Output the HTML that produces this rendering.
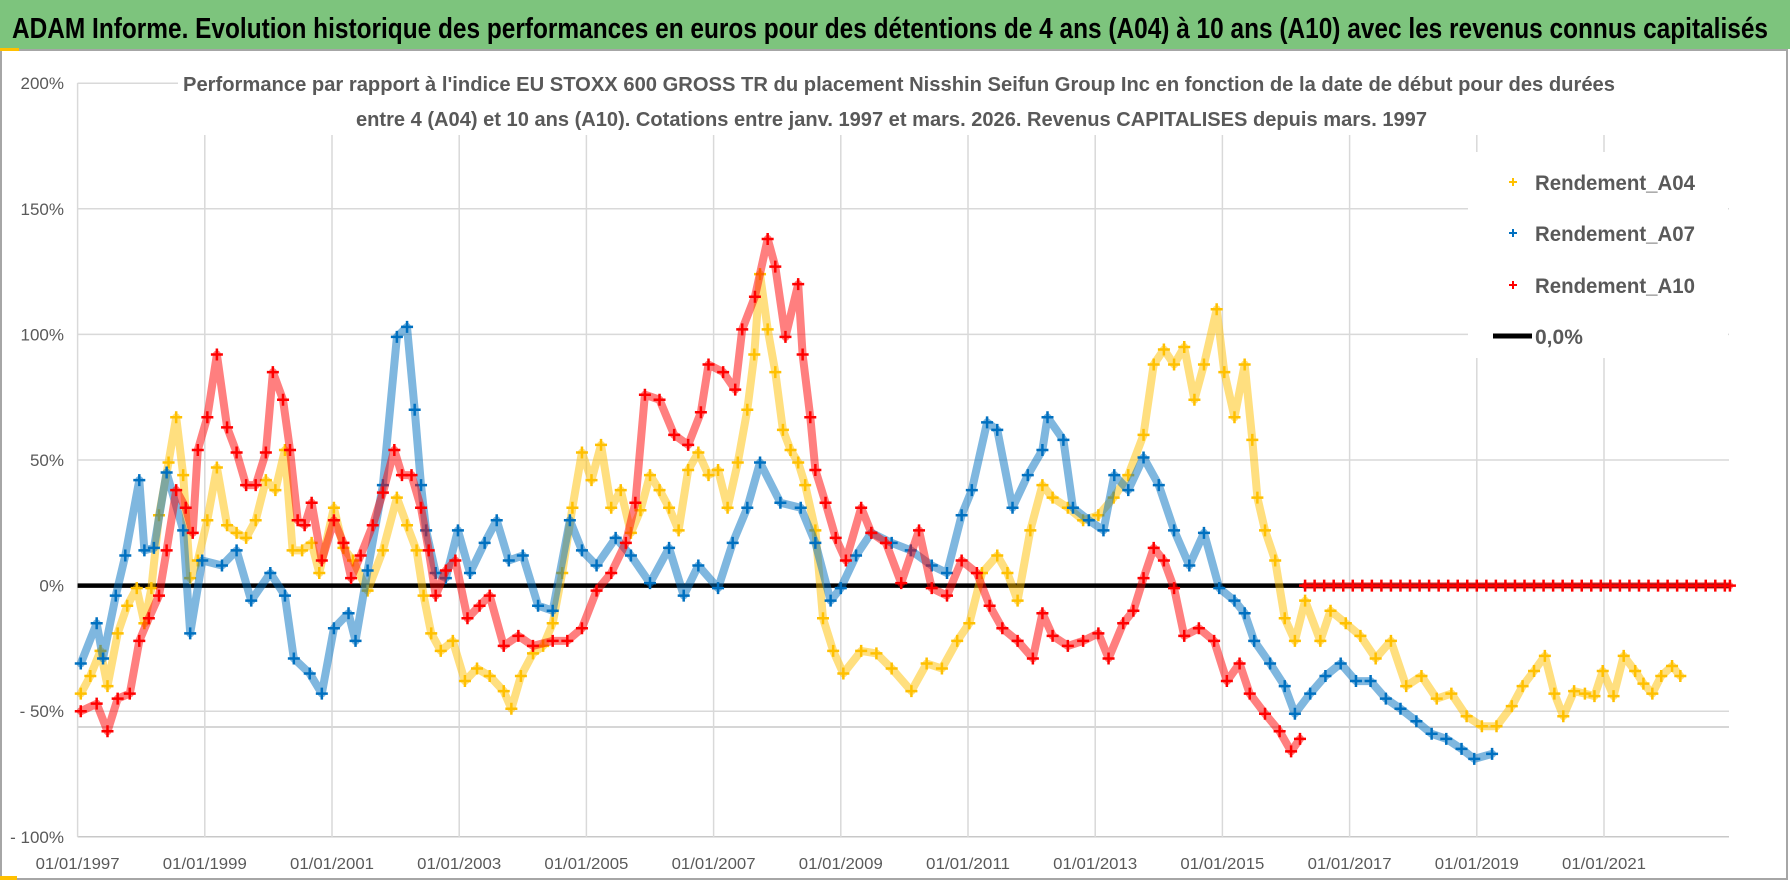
<!DOCTYPE html>
<html><head><meta charset="utf-8"><style>
html,body{margin:0;padding:0;background:#fff}
svg{display:block;font-family:"Liberation Sans",sans-serif}
</style></head><body>
<svg id="chart" width="1790" height="886" viewBox="0 0 1790 886">
<rect x="0" y="0" width="1790" height="886" fill="#fff"/>
<rect x="1" y="50" width="1786" height="829" fill="none" stroke="#a6a6a6" stroke-width="2"/>
<rect x="0" y="0" width="1790" height="49" fill="#7dc47d"/>
<rect x="0" y="48" width="19" height="3" fill="#ffc000"/>
<rect x="0" y="876" width="17" height="4" fill="#ffc000"/>
<text x="12" y="38" font-size="29" font-weight="bold" fill="#000" textLength="1756" lengthAdjust="spacingAndGlyphs">ADAM Informe. Evolution historique des performances en euros pour des détentions de 4 ans (A04) à 10 ans (A10) avec les revenus connus capitalisés</text>
<g id="grid"></g>
<g id="series"></g>
<rect x="1468" y="152" width="260" height="206" fill="#fff"/>
<text x="183" y="91" font-size="20" font-weight="bold" fill="#595959" textLength="1432" lengthAdjust="spacingAndGlyphs">Performance par rapport à l'indice EU STOXX 600 GROSS TR  du placement Nisshin Seifun Group Inc en fonction de la date de début pour des durées</text>
<text x="356" y="126" font-size="20" font-weight="bold" fill="#595959" textLength="1071" lengthAdjust="spacingAndGlyphs">entre 4 (A04) et 10 ans (A10).  Cotations entre janv. 1997 et mars. 2026. Revenus CAPITALISES depuis mars. 1997</text>
<g>
 <g><path d="M1509 182h8M1513 178v8" stroke="#ffc000" stroke-width="2"/><text x="1535" y="190" font-size="21" font-weight="bold" fill="#595959" textLength="160" lengthAdjust="spacingAndGlyphs">Rendement_A04</text></g>
 <g><path d="M1509 233h8M1513 229v8" stroke="#0070c0" stroke-width="2"/><text x="1535" y="241" font-size="21" font-weight="bold" fill="#595959" textLength="160" lengthAdjust="spacingAndGlyphs">Rendement_A07</text></g>
 <g><path d="M1509 285h8M1513 281v8" stroke="#ff0000" stroke-width="2"/><text x="1535" y="293" font-size="21" font-weight="bold" fill="#595959" textLength="160" lengthAdjust="spacingAndGlyphs">Rendement_A10</text></g>
 <g><line x1="1493" y1="336" x2="1532" y2="336" stroke="#000" stroke-width="5"/><text x="1535" y="344" font-size="21" font-weight="bold" fill="#595959">0,0%</text></g>
</g>
</svg>
<script>
const yTickValues = [200, 150, 100, 50, 0, -50, -100];
const yTickLabels = ["200%", "150%", "100%", "50%", "0%", "- 50%", "- 100%"];
const xTickYears = [1997, 1999, 2001, 2003, 2005, 2007, 2009, 2011, 2013, 2015, 2017, 2019, 2021];
const xTickLabels = ["01/01/1997","01/01/1999","01/01/2001","01/01/2003","01/01/2005","01/01/2007","01/01/2009","01/01/2011","01/01/2013","01/01/2015","01/01/2017","01/01/2019","01/01/2021"];
const zeroLineRange = [1997.0, 2022.98];

const a04Years = [1997.05,1997.2,1997.36,1997.47,1997.63,1997.78,1997.93,1998.05,1998.16,1998.28,1998.43,1998.55,1998.66,1998.77,1998.89,1999.04,1999.19,1999.35,1999.5,1999.65,1999.8,1999.96,2000.11,2000.26,2000.38,2000.53,2000.68,2000.8,2001.03,2001.18,2001.33,2001.56,2001.8,2002.02,2002.18,2002.33,2002.44,2002.56,2002.71,2002.9,2003.09,2003.28,2003.48,2003.7,2003.82,2003.97,2004.16,2004.32,2004.47,2004.62,2004.78,2004.93,2005.08,2005.23,2005.39,2005.54,2005.7,2005.85,2006.0,2006.15,2006.3,2006.45,2006.6,2006.76,2006.92,2007.07,2007.22,2007.38,2007.53,2007.64,2007.73,2007.85,2007.97,2008.09,2008.21,2008.33,2008.44,2008.6,2008.72,2008.88,2009.04,2009.32,2009.56,2009.8,2010.11,2010.35,2010.59,2010.83,2011.02,2011.22,2011.46,2011.62,2011.78,2011.98,2012.17,2012.33,2012.57,2012.81,2013.05,2013.29,2013.52,2013.76,2013.92,2014.08,2014.24,2014.4,2014.56,2014.71,2014.91,2015.03,2015.19,2015.35,2015.47,2015.55,2015.67,2015.83,2015.98,2016.14,2016.3,2016.54,2016.7,2016.94,2017.17,2017.41,2017.65,2017.89,2018.13,2018.37,2018.6,2018.84,2019.08,2019.31,2019.55,2019.72,2019.9,2020.07,2020.22,2020.36,2020.53,2020.7,2020.85,2020.98,2021.15,2021.31,2021.49,2021.62,2021.76,2021.9,2022.07,2022.2];
const a04Values = [-43,-36,-26,-40,-19,-8,-1,-15,-1,28,49,67,44,3,10,26,47,24,21,19,26,42,38,54,14,14,17,5,31,15,10,-2,14,35,24,14,-4,-19,-26,-22,-38,-33,-36,-42,-49,-36,-27,-24,-15,5,31,53,42,56,31,38,21,30,44,38,31,22,46,53,44,46,31,49,70,92,124,102,85,62,54,49,40,22,-13,-26,-35,-26,-27,-33,-42,-31,-33,-22,-15,5,12,5,-6,22,40,35,31,26,28,35,44,60,88,94,88,95,74,88,110,85,67,88,58,35,22,10,-13,-22,-6,-22,-10,-15,-20,-29,-22,-40,-36,-45,-43,-52,-56,-56,-48,-40,-34,-28,-43,-52,-42,-43,-44,-34,-44,-28,-34,-39,-43,-36,-32,-36];

const a07Years = [1997.05,1997.3,1997.4,1997.6,1997.75,1997.97,1998.05,1998.2,1998.4,1998.66,1998.77,1998.96,1999.27,1999.5,1999.73,2000.03,2000.26,2000.4,2000.65,2000.84,2001.03,2001.26,2001.37,2001.56,2001.8,2002.02,2002.18,2002.3,2002.4,2002.48,2002.63,2002.79,2002.98,2003.17,2003.4,2003.59,2003.78,2004.0,2004.24,2004.47,2004.74,2004.93,2005.16,2005.46,2005.7,2006.0,2006.3,2006.53,2006.76,2007.07,2007.3,2007.53,2007.73,2008.05,2008.37,2008.6,2008.84,2009.0,2009.24,2009.48,2009.8,2010.1,2010.43,2010.67,2010.9,2011.06,2011.3,2011.46,2011.7,2011.94,2012.17,2012.25,2012.5,2012.65,2012.9,2013.13,2013.3,2013.52,2013.76,2014.0,2014.24,2014.48,2014.71,2014.95,2015.19,2015.35,2015.5,2015.75,2015.98,2016.14,2016.38,2016.62,2016.86,2017.1,2017.33,2017.57,2017.8,2018.05,2018.29,2018.52,2018.76,2018.96,2019.24];
const a07Values = [-31,-15,-29,-4,12,42,14,15,45,22,-19,10,8,14,-6,5,-4,-29,-35,-43,-17,-11,-22,6,40,99,103,70,40,22,5,3,22,5,17,26,10,12,-8,-10,26,14,8,19,12,1,15,-4,8,-1,17,31,49,33,31,17,-6,-1,12,21,17,14,8,5,28,38,65,62,31,44,54,67,58,31,26,22,44,38,51,40,22,8,21,-1,-6,-11,-22,-31,-40,-51,-43,-36,-31,-38,-38,-45,-49,-54,-59,-61,-65,-69,-67];

const a10Years = [1997.05,1997.3,1997.47,1997.63,1997.82,1997.97,1998.12,1998.28,1998.4,1998.55,1998.7,1998.81,1998.89,1999.04,1999.19,1999.35,1999.5,1999.65,1999.8,1999.96,2000.07,2000.23,2000.34,2000.46,2000.57,2000.68,2000.84,2001.03,2001.18,2001.3,2001.45,2001.64,2001.8,2001.98,2002.1,2002.25,2002.4,2002.52,2002.63,2002.79,2002.94,2003.13,2003.32,2003.48,2003.7,2003.93,2004.16,2004.47,2004.7,2004.93,2005.16,2005.39,2005.62,2005.77,2005.92,2006.15,2006.38,2006.6,2006.8,2006.92,2007.15,2007.34,2007.45,2007.65,2007.85,2007.97,2008.13,2008.33,2008.4,2008.52,2008.6,2008.76,2008.92,2009.08,2009.32,2009.48,2009.71,2009.95,2010.23,2010.43,2010.67,2010.9,2011.14,2011.34,2011.54,2011.78,2012.02,2012.17,2012.33,2012.57,2012.81,2013.05,2013.21,2013.44,2013.6,2013.76,2013.92,2014.08,2014.24,2014.4,2014.63,2014.87,2015.07,2015.27,2015.43,2015.67,2015.9,2016.08,2016.22];
const a10Values = [-50,-47,-58,-45,-43,-22,-13,-4,14,38,31,21,54,67,92,63,53,40,40,53,85,74,54,26,24,33,10,26,17,3,12,24,37,54,44,44,31,14,-4,6,10,-13,-8,-4,-24,-20,-24,-22,-22,-17,-2,5,17,33,76,74,60,56,69,88,85,78,102,115,138,127,99,120,92,67,46,33,19,10,31,21,17,1,22,-1,-4,10,5,-8,-17,-22,-29,-11,-20,-24,-22,-19,-29,-15,-10,3,15,10,-1,-20,-17,-22,-38,-31,-43,-51,-58,-66,-61];
const a10ZeroYears = [2016.3,2016.45,2016.6,2016.75,2016.9,2017.05,2017.2,2017.35,2017.5,2017.65,2017.8,2017.95,2018.1,2018.25,2018.4,2018.55,2018.7,2018.85,2019.0,2019.15,2019.3,2019.45,2019.6,2019.75,2019.9,2020.05,2020.2,2020.35,2020.5,2020.65,2020.8,2020.95,2021.1,2021.25,2021.4,2021.55,2021.7,2021.85,2022.0,2022.15,2022.3,2022.45,2022.6,2022.75,2022.9,2022.98];
const a10ZeroValues = [0,0,0,0,0,0,0,0,0,0,0,0,0,0,0,0,0,0,0,0,0,0,0,0,0,0,0,0,0,0,0,0,0,0,0,0,0,0,0,0,0,0,0,0,0,0];

const NS = "http://www.w3.org/2000/svg";
const PL = 77.6, PR = 1729, PTOP = 135, PBOT = 837;
function xScale(yr){ return PL + (yr - 1997) * 63.6; }
function yScale(v){ return 585.6 - v * 2.512; }

const grid = document.getElementById('grid');
const series = document.getElementById('series');
const svg = document.getElementById('chart');

function mk(tag, attrs, parent){
  const e = document.createElementNS(NS, tag);
  for (const k in attrs) e.setAttribute(k, attrs[k]);
  parent.appendChild(e);
  return e;
}

yTickValues.forEach((v, i) => {
  const y = yScale(v);
  let x2 = PR;
  if (v === 200) x2 = 178;
  const ln = mk('line', {x1: PL, y1: y, x2: x2, y2: y, stroke: v === -100 ? '#c8c8c8' : '#d9d9d9', 'stroke-width': 1.5}, grid);
  
  
  const t = mk('text', {x: 64, y: y + 6, 'font-size': 17, fill: '#595959', 'text-anchor': 'end'}, svg);
  t.textContent = yTickLabels[i];
  
  
});
const extra = mk('line', {x1: PL, y1: 727, x2: PR, y2: 727, stroke: '#c8c8c8', 'stroke-width': 1.5}, grid);



xTickYears.forEach((yr, i) => {
  const x = xScale(yr);
  const ln = mk('line', {x1: x, y1: (yr === 1997 ? 83 : PTOP), x2: x, y2: PBOT, stroke: '#d9d9d9', 'stroke-width': 1.5}, grid);
  
  
  const t = mk('text', {x: x, y: 869, 'font-size': 16, fill: '#595959', 'text-anchor': 'middle', textLength: 84, lengthAdjust: 'spacingAndGlyphs'}, svg);
  t.textContent = xTickLabels[i];
  
  
});

const zl = mk('line', {x1: xScale(zeroLineRange[0]), y1: yScale(0), x2: xScale(zeroLineRange[1]), y2: yScale(0), stroke: '#000', 'stroke-width': 4.5}, series);



function drawSeries(years, values, color, name, band){
  const g = mk('g', {}, series);
  
  
  const pts = years.map((yr, i) => xScale(yr).toFixed(1) + ',' + yScale(values[i]).toFixed(1)).join(' ');
  const pl = mk('polyline', {points: pts, fill: 'none', stroke: color, 'stroke-width': band, 'stroke-linejoin': 'round', 'stroke-linecap': 'round', opacity: 0.5}, g);
  
  
  years.forEach((yr, i) => {
    const x = xScale(yr), y = yScale(values[i]);
    const p = mk('path', {d: `M${x-6} ${y}h12M${x} ${y-6}v12`, stroke: color, 'stroke-width': 2.5}, g);
    
    
  });
}
drawSeries(a04Years, a04Values, '#ffc000', 'series-a04', 8);
drawSeries(a07Years, a07Values, '#0070c0', 'series-a07', 8);
drawSeries(a10Years, a10Values, '#ff0000', 'series-a10', 8);
drawSeries(a10ZeroYears, a10ZeroValues, '#ff0000', 'series-a10-zero', 7);
</script>
</body></html>
